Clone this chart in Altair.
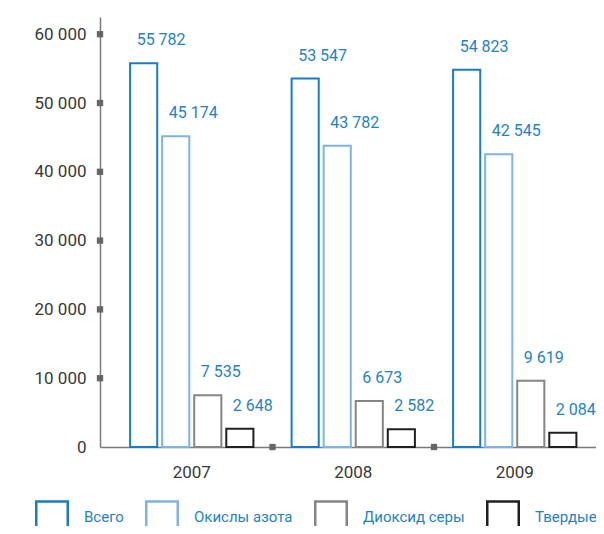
import altair as alt
import pandas as pd

years = ["2007", "2008", "2009"]
categories = ["Всего", "Окислы азота", "Диоксид серы", "Твердые"]
vsego = [55782, 53547, 54823]
okisly = [45174, 43782, 42545]
dioksid = [7535, 6673, 9619]
tverdye = [2648, 2582, 2084]
y_ticks = [0, 10000, 20000, 30000, 40000, 50000, 60000]
group_ticks = ["2008", "2009"]

colors = ["#1a7cc4", "#80b3e1", "#858585", "#202020"]
label_color = "#1f82c8"
FONT = "Roboto"

rows = []
for cat, vals in zip(categories, [vsego, okisly, dioksid, tverdye]):
    for yr, v in zip(years, vals):
        rows.append({"year": yr, "cat": cat, "value": v,
                     "label": f"{v:,}".replace(",", " ")})
df = pd.DataFrame(rows)
ytick_df = pd.DataFrame({"value": y_ticks[1:]})
xtick_df = pd.DataFrame({"year": group_ticks, "value": [0] * len(group_ticks)})

xscale = alt.Scale(type="band", domain=years, paddingInner=0, paddingOuter=0.0356, align=0.957)
yscale = alt.Scale(domain=[0, 62500], nice=False)
xoff = alt.XOffset("cat:N", sort=categories,
                   scale=alt.Scale(domain=categories, paddingInner=0.154, paddingOuter=0.596))

bars = alt.Chart(df).mark_bar(fill="white", strokeWidth=2, fillOpacity=1).encode(
    x=alt.X("year:N", scale=xscale,
            axis=alt.Axis(title=None, labelAngle=0, ticks=False, labelPadding=17,
                          labelColor="#383838", labelFontSize=17, labelFont=FONT,
                          domainColor="#7a7a7a", domainWidth=1.5)),
    xOffset=xoff,
    y=alt.Y("value:Q", scale=yscale,
            axis=alt.Axis(title=None, values=y_ticks, ticks=False, grid=False,
                          labelPadding=14, labelColor="#383838", labelFontSize=17,
                          labelFont=FONT, domainColor="#7a7a7a", domainWidth=1.5,
                          labelExpr="replace(format(datum.value, ','), ',', ' ')")),
    stroke=alt.Stroke("cat:N", sort=categories,
                      scale=alt.Scale(domain=categories, range=colors),
                      legend=alt.Legend(title=None, orient="none", legendX=-65, legendY=483,
                                        direction="horizontal", columns=4,
                                        symbolType="square", symbolSize=992,
                                        symbolStrokeWidth=2.5, symbolFillColor="white",
                                        labelFont=FONT, labelFontSize=15,
                                        labelColor=label_color, labelOffset=15,
                                        columnPadding=17, padding=0)),
)

labels = alt.Chart(df).mark_text(align="left", baseline="alphabetic", dx=-7, dy=-18,
                                 font=FONT, fontSize=16, color=label_color).encode(
    x=alt.X("year:N", scale=xscale),
    xOffset=xoff,
    y=alt.Y("value:Q", scale=yscale),
    text="label:N",
)

yticks = alt.Chart(ytick_df).mark_square(size=40, color="#666666", filled=True, opacity=1).encode(
    x=alt.value(0),
    y=alt.Y("value:Q", scale=yscale),
)

xticks = alt.Chart(xtick_df).mark_square(size=40, color="#666666", filled=True, opacity=1).encode(
    x=alt.X("year:N", scale=xscale, bandPosition=0),
    y=alt.Y("value:Q", scale=yscale),
)

chart = alt.layer(bars, labels, yticks, xticks).properties(
    width=496, height=430,
    autosize=alt.AutoSizeParams(type="none"),
    padding={"left": 92, "top": 9, "right": 0, "bottom": 79},
).configure_view(stroke=None)

chart.save("out.html", embed_options={"renderer": "svg", "actions": False})
